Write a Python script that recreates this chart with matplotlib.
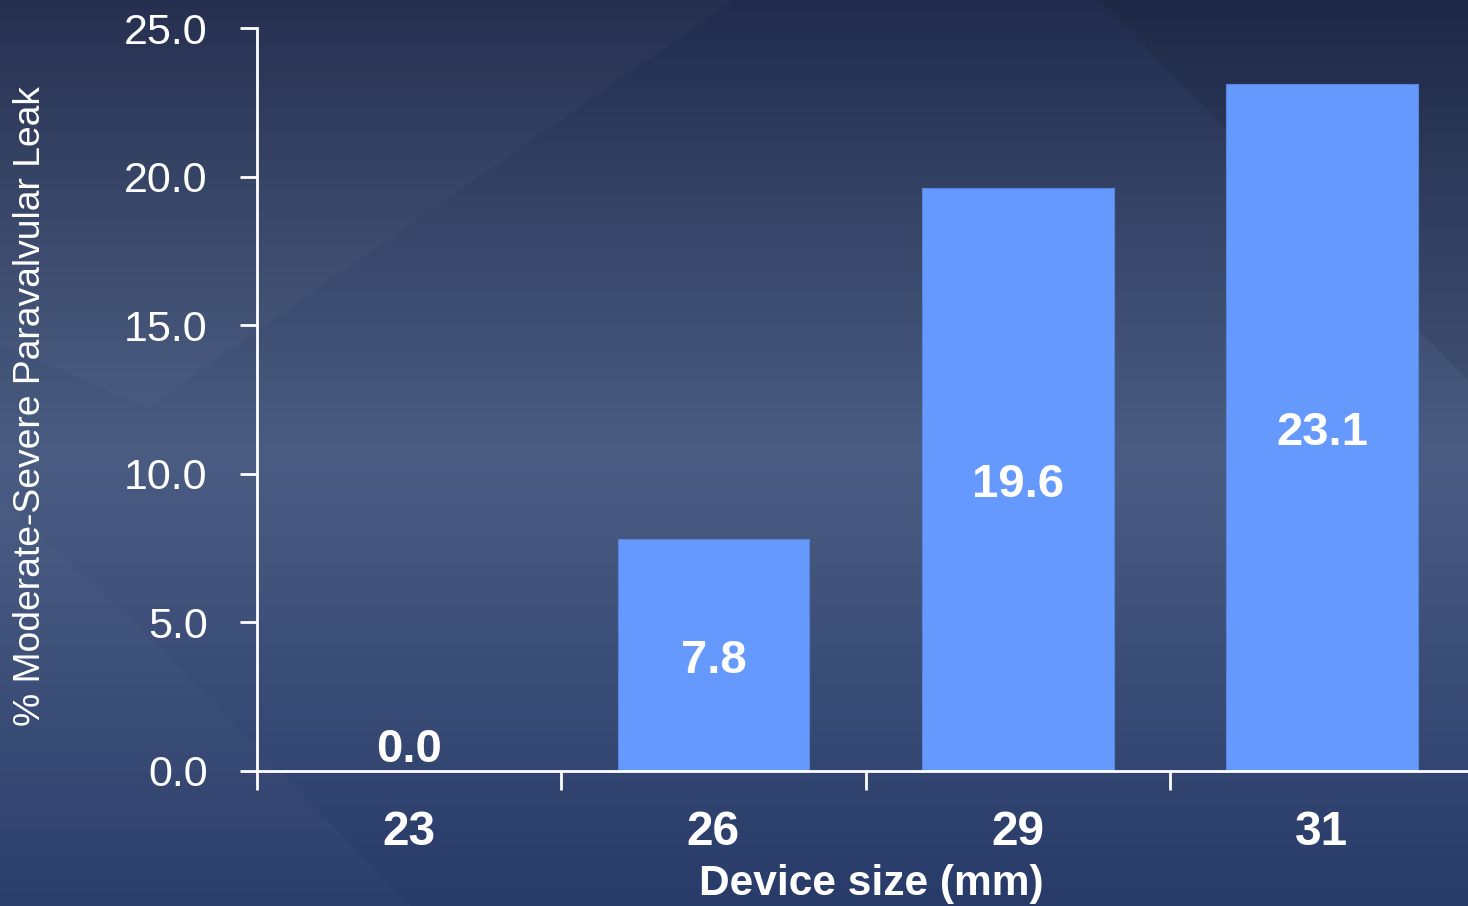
import numpy as np
import matplotlib
matplotlib.use("Agg")
import matplotlib.pyplot as plt
from matplotlib.patches import Polygon

categories = ["23", "26", "29", "31"]
values = [0.0, 7.8, 19.6, 23.1]
value_labels = ["0.0", "7.8", "19.6", "23.1"]
yticks = [0, 5, 10, 15, 20, 25]
ytick_labels = ["0.0", "5.0", "10.0", "15.0", "20.0", "25.0"]

plt.rcParams['font.family'] = ['Liberation Sans', 'DejaVu Sans']

W, H = 1468, 906
fig = plt.figure(figsize=(W / 100, H / 100), dpi=100)

# background gradient
bg = fig.add_axes([0, 0, 1, 1])
bg.set_axis_off()
ys = np.linspace(0, 1, 300)
top = np.array([0x20, 0x2b, 0x4c]) / 255
mid = np.array([0x4a, 0x5c, 0x82]) / 255
bot = np.array([0x28, 0x3b, 0x69]) / 255
cols = np.zeros((300, 1, 3))
for i, t in enumerate(ys):
    if t < 0.5:
        c = top + (mid - top) * (t / 0.5) ** 0.9
    else:
        c = mid + (bot - mid) * ((t - 0.5) / 0.5) ** 1.1
    cols[i, 0] = c
img = np.repeat(cols, 50, axis=1)
bg.imshow(img, aspect='auto', extent=[0, 1, 0, 1], origin='upper')
# subtle diagonal overlays
bg.add_patch(Polygon([[0, 1], [0.5, 1], [0.1, 0.55], [0, 0.62]], closed=True,
                     facecolor='white', alpha=0.025, edgecolor='none'))
bg.add_patch(Polygon([[0.75, 1], [1, 1], [1, 0.58]], closed=True,
                     facecolor='black', alpha=0.08, edgecolor='none'))
bg.add_patch(Polygon([[0, 0.45], [0.1, 0.3], [0.28, 0], [0, 0]], closed=True,
                     facecolor='white', alpha=0.02, edgecolor='none'))
bg.set_xlim(0, 1)
bg.set_ylim(0, 1)

ax = fig.add_axes([257 / W, (H - 771) / H, (W - 257) / W, (771 - 28) / H])
ax.patch.set_alpha(0)
x = np.arange(len(categories))
ax.bar(x, values, width=0.63, color='#6699FD', edgecolor='#5a85dd', linewidth=0.8, zorder=2)
ax.set_xlim(-0.5, 3.48)
ax.set_ylim(0, 25)

for xi, v, lab in zip(x, values, value_labels):
    if v == 0:
        ax.text(xi, 0.3, lab, ha='center', va='baseline', color='white',
                fontsize=34, fontweight='bold', zorder=3)
    else:
        ax.annotate(lab, (xi, v / 2), xytext=(0, -4), textcoords='offset points',
                    ha='center', va='center', color='white',
                    fontsize=34, fontweight='bold', zorder=3)

for s in ['top', 'right']:
    ax.spines[s].set_visible(False)
for s in ['left', 'bottom']:
    ax.spines[s].set_color('white')
    ax.spines[s].set_linewidth(2)

ax.set_yticks(yticks)
ax.set_yticklabels(ytick_labels, fontsize=31, color='white')
ax.tick_params(axis='y', colors='white', length=12, width=2, pad=23.5)

ax.set_xticks(x - 0.5, minor=False)
ax.set_xticklabels([])
ax.set_xticks(x, minor=True)
ax.set_xticklabels(categories, minor=True, fontsize=34.5, fontweight='bold', color='white')
ax.tick_params(axis='x', which='major', colors='white', length=14, width=2)
ax.tick_params(axis='x', which='minor', length=0, pad=28, labelcolor='white')

fig.text(871 / W, 1 - 884 / H, "Device size (mm)", ha='center', va='center',
         color='white', fontsize=30.6, fontweight='bold')
fig.text(31 / W, 1 - 406 / H, "% Moderate-Severe Paravalvular Leak", ha='center', va='center',
         rotation=90, color='white', fontsize=26.8)

fig.savefig("out.png", dpi=100)
